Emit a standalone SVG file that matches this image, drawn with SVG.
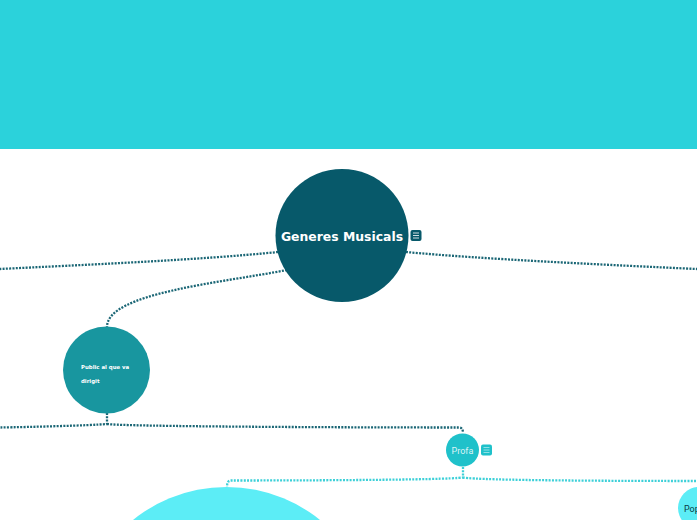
<svg xmlns="http://www.w3.org/2000/svg" width="697" height="520" viewBox="0 0 697 520">
<style>
.c{fill:none;stroke-width:2.300;stroke-dasharray:2 1.300;stroke-linejoin:round}
.d{stroke:#1a6675}
.l{stroke:#3dd0d8}
.t{font-family:"DejaVu Sans",sans-serif}
.r{font-family:Roboto,sans-serif}
</style>
<rect x="0" y="0" width="697" height="149" fill="#2bd2db"/>
<rect x="0" y="149" width="697" height="371" fill="#ffffff"/>
<g id="connectors">
<path class="c d" d="M278 252C200 260 80 265 0 269"/>
<path class="c d" d="M406 252C480 259 610 265 697 269"/>
<path class="c d" d="M287 270C220 283 107 293 107 327"/>
<path class="c d" d="M107 413V424C90 425.500 30 427 0 427.500"/>
<path class="c d" d="M107 424C125 426.500 340 427.500 459 427.500Q463 427.500 463 433"/>
<path class="c l" d="M463 467V477.500C445 480 300 480.500 231 480.500Q227 480.500 227 487"/>
<path class="c l" d="M463 477.500C480 480.500 620 481 697 481"/>
</g>
<g id="node-root">
<circle cx="342" cy="235.500" r="66.500" fill="#07596a"/>
<text class="t" x="342" y="241" font-size="12.400" font-weight="700" fill="#ffffff" text-anchor="middle">Generes Musicals</text>
<rect x="410.500" y="230" width="11" height="11" rx="2" fill="#07596a"/>
<path d="M413 233h6M413 235.500h6M413 238h6" stroke="#ffffff" stroke-width="1" fill="none" opacity="0.8"/>
</g>
<g id="node-public">
<circle cx="106.500" cy="370" r="43.500" fill="#18969f"/>
<text class="t" x="81" y="368.500" font-size="5.400" font-weight="700" fill="#ffffff">Public al que va</text>
<text class="t" x="81" y="382.500" font-size="5.400" font-weight="700" fill="#ffffff">dirigit</text>
</g>
<g id="node-profa">
<circle cx="462.500" cy="450" r="16.500" fill="#1fc1ca"/>
<text class="r" x="462.500" y="453.500" font-size="9" fill="#ffffff" fill-opacity="0.85" text-anchor="middle">Profa</text>
<rect x="481" y="444.500" width="11" height="11" rx="2" fill="#1fc1ca"/>
<path d="M483.500 447.500h6M483.500 450h6M483.500 452.500h6" stroke="#ffffff" stroke-width="1" fill="none" opacity="0.5"/>
</g>
<g id="node-big">
<circle cx="226.500" cy="636" r="149" fill="#5cedf6"/>
</g>
<g id="node-pop">
<circle cx="699" cy="508" r="21" fill="#5cedf6"/>
<text class="r" x="684" y="511.500" font-size="9" fill="#0a3a44">Pop</text>
</g>
</svg>
